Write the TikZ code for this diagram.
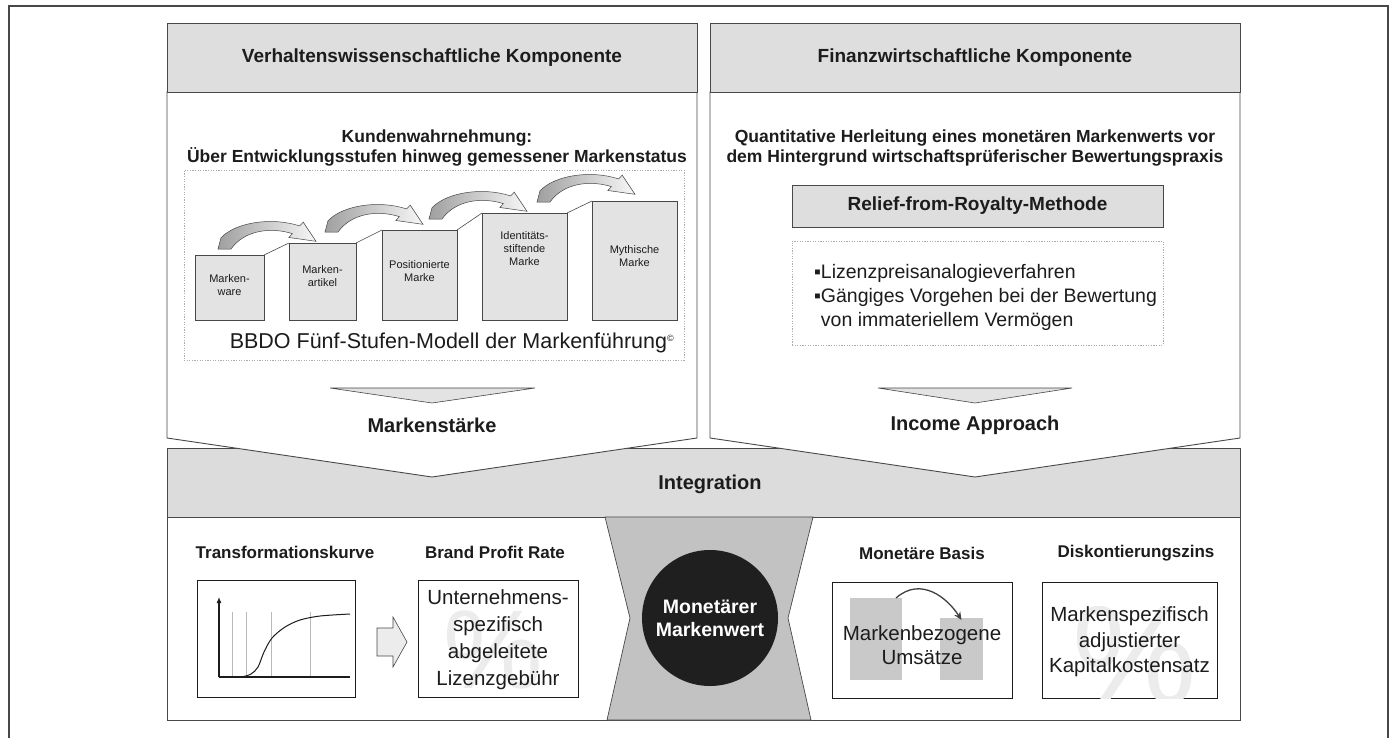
\documentclass[tikz,border=0pt]{standalone}
\usepackage{fontspec}
\setmainfont{Liberation Sans}
\usetikzlibrary{arrows.meta}
\newcommand{\fsz}[2]{\fontsize{#1}{#2}\selectfont}
\definecolor{ink}{HTML}{1C1C1C}
\definecolor{frame}{HTML}{484848}
\definecolor{headfill}{HTML}{DEDEDE}
\definecolor{bandfill}{HTML}{DCDCDC}
\definecolor{glassfill}{HTML}{C2C2C2}
\definecolor{stepfill}{HTML}{E3E3E3}
\definecolor{waterfill}{HTML}{ECECEC}
% curved step arrow, tail bottom at (#1,#2)
\newcommand{\bowarrow}[2]{%
  \begin{scope}[shift={(#1,#2)}, yscale=0.8]
    \path[bow] (0,0) -- (3,-14)
      .. controls (18,-34) and (55,-40) .. (81.6,-28.8)
      -- (85.2,-33.6) -- (98,-9.6) -- (70.8,-14.4) -- (74.4,-19.2)
      .. controls (52,-28) and (26,-23) .. (13,0) -- cycle;
  \end{scope}}
\begin{document}
\begin{tikzpicture}[x=1pt,y=-1pt,
  every node/.style={inner sep=0pt, outer sep=0pt, text=ink},
  edge/.style={draw=frame, line width=0.9pt},
  headbox/.style={draw=frame, line width=0.9pt, fill=headfill, font=\bfseries\fsz{19}{22}},
  subtxt/.style={font=\bfseries\fsz{17.5}{20.5}, align=center},
  biglbl/.style={font=\bfseries\fsz{20}{24}},
  caption/.style={font=\bfseries\fsz{17}{20}},
  valbox/.style={draw=ink, line width=1pt, fill=white},
  valtxt/.style={font=\fsz{20.5}{27}, align=center},
  stepbox/.style={draw=frame, line width=0.6pt, fill=stepfill},
  stepline/.style={draw=frame, line width=0.6pt},
  steptxt/.style={font=\fsz{11}{13}, align=center},
  dotbox/.style={draw=gray!65, line width=0.8pt, dash pattern=on 1.2pt off 1.4pt},
  bow/.style={left color=gray!75, right color=gray!6, draw=gray!55!black, line width=0.5pt},
  chev/.style={fill=gray!22, draw=gray!55!black, line width=0.6pt},
  pct/.style={text=waterfill},
]
\useasboundingbox (0,0) rectangle (1396,738);
\fill[white] (0,0) rectangle (1396,738);

% outer frame
\draw[frame, line width=1.3pt] (9,738) -- (9,6) -- (1388,6) -- (1388,738);

% integration band
\node[draw=frame, line width=0.9pt, fill=bandfill, minimum width=1073pt, minimum height=69pt] (band) at (703.5,482.5) {};
\node[biglbl] (integ) at (710,484) {Integration};

% two upper components with chevron bottoms
\draw[edge, fill=white] (167,92) -- (167,438) -- (432,477) -- (697,438) -- (697,92) -- cycle;
\draw[edge, fill=white] (710,92) -- (710,438) -- (975,477) -- (1240,438) -- (1240,92) -- cycle;
\node[headbox, minimum width=530pt, minimum height=69pt] (lhead) at (432,57.5) {Verhaltenswissenschaftliche Komponente};
\node[headbox, minimum width=530pt, minimum height=69pt] (rhead) at (975,57.5) {Finanzwirtschaftliche Komponente};

% left component
\node[subtxt] (lsub) at (437,148) {Kundenwahrnehmung:\\Über Entwicklungsstufen hinweg gemessener Markenstatus};
\node[dotbox, minimum width=500pt, minimum height=190pt] (bbdobox) at (434,265) {};

\node[stepbox, minimum width=69pt, minimum height=65pt] (s1) at (229.5,287.5) {};
\node[stepbox, minimum width=67pt, minimum height=77pt] (s2) at (322.5,281.5) {};
\node[stepbox, minimum width=75pt, minimum height=90pt] (s3) at (419.5,275) {};
\node[stepbox, minimum width=85pt, minimum height=107pt] (s4) at (524.5,266.5) {};
\node[stepbox, minimum width=85pt, minimum height=119pt] (s5) at (634.5,260.5) {};
\draw[stepline] (s1.north east) -- (s2.north west);
\draw[stepline] (s2.north east) -- (s3.north west);
\draw[stepline] (s3.north east) -- (s4.north west);
\draw[stepline] (s4.north east) -- (s5.north west);
\node[steptxt] (t1) at (229.5,285) {Marken-\\ware};
\node[steptxt] (t2) at (322.5,276.5) {Marken-\\artikel};
\node[steptxt] (t3) at (419.5,271) {Positionierte\\Marke};
\node[steptxt] (t4) at (524.5,248.5) {Identitäts-\\stiftende\\Marke};
\node[steptxt] (t5) at (634.5,256) {Mythische\\Marke};

\bowarrow{218}{249}
\bowarrow{325}{232}
\bowarrow{429}{219}
\bowarrow{537}{202}

\node[font=\fsz{21.5}{24}] (bbdo) at (452,343) {BBDO Fünf-Stufen-Modell der Markenführung\textsuperscript{\fsz{9}{9}©}};

\path[chev] (330,388) -- (535,388) -- (432,403) -- cycle;
\node[biglbl] (lres) at (432,425) {Markenstärke};

% right component
\node[subtxt] (rsub) at (975,148) {Quantitative Herleitung eines monetären Markenwerts vor\\dem Hintergrund wirtschaftsprüferischer Bewertungspraxis};
\node[headbox, minimum width=371pt, minimum height=42pt] (rfr) at (977.5,206) {Relief-from-Royalty-Methode};
\node[dotbox, minimum width=371pt, minimum height=104pt] (lic) at (977.5,293) {};
\node[font=\fsz{19.5}{24}, align=left, anchor=west] (bul) at (814,297)
  {▪Lizenzpreisanalogieverfahren\\▪Gängiges Vorgehen bei der Bewertung\\\phantom{▪}von immateriellem Vermögen};

\path[chev] (878,388) -- (1072,388) -- (975,403) -- cycle;
\node[biglbl] (rres) at (975,425) {Income Approach};

% lower integration panel
\draw[edge, fill=white] (167,517) rectangle (1240,720);
\draw[draw=frame, line width=0.7pt, fill=glassfill]
  (605,517) -- (630,618) -- (607,720) -- (811,720) -- (788,618) -- (813,517) -- cycle;
\node[circle, fill=black!88, minimum size=136pt, text=white, font=\bfseries\fsz{19.5}{23}, align=center] (core) at (710,618) {Monetärer\\Markenwert};

% transformation curve
\node[caption] (cTK) at (285,552) {Transformationskurve};
\node[valbox, minimum width=158pt, minimum height=117pt] (curve) at (276,638.5) {};
\foreach \xv in {232,246,271,310}
  \draw[gray!55, line width=0.5pt] (\xv,612) -- (\xv,677);
\draw[ink, line width=1.1pt] (219,677) -- (350,677);
\draw[ink, line width=1.1pt, -{Latex[length=6pt,width=5pt]}] (219,677) -- (219,597);
\draw[ink, line width=1pt] plot[smooth] coordinates
  {(219,677) (240,677) (251,674) (258,667) (264,652) (272,638) (285,627) (300,620) (320,616) (350,614)};

\draw[draw=frame, line width=0.6pt, fill=gray!15]
  (377,628) -- (393,628) -- (393,617) -- (407,642) -- (393,667) -- (393,656) -- (377,656) -- cycle;

% brand profit rate
\node[caption] (cBPR) at (495,552) {Brand Profit Rate};
\node[valbox, minimum width=160pt, minimum height=117pt] (rate) at (498,638.5) {};
\begin{scope}
  \clip (rate.south west) rectangle (rate.north east);
  \node[pct, font=\fsz{112}{112}] (pctA) at (493,650) {\%};
\end{scope}
\node[valtxt] (rateT) at (498,640) {Unternehmens-\\spezifisch\\abgeleitete\\Lizenzgebühr};

% monetary basis
\node[caption] (cMB) at (922,553) {Monetäre Basis};
\node[valbox, minimum width=180pt, minimum height=116pt] (base) at (922,640) {};
\node[fill=gray!42, minimum width=52pt, minimum height=82pt] (rA) at (876,639) {};
\node[fill=gray!42, minimum width=43pt, minimum height=62pt] (rB) at (961.5,649) {};
\draw[gray!50!black, line width=1.3pt, -{Stealth[length=8pt,width=7pt]}]
  ([xshift=-6pt]rA.north east) .. controls +(25,-22) and +(-14,-22) .. ([yshift=-2pt]rB.north);
\node[font=\fsz{20.5}{24}, align=center] (baseT) at (922,645) {Markenbezogene\\Umsätze};

% discount rate
\node[caption] (cDZ) at (1136,553) {Diskontierungszins};
\node[valbox, minimum width=175pt, minimum height=116pt] (disc) at (1129.5,640) {};
\begin{scope}
  \clip (disc.south west) rectangle (disc.north east);
  \node[pct, font=\fsz{140}{140}] (pctB) at (1135,655) {\%};
\end{scope}
\node[font=\fsz{20.5}{25.5}, align=center] (discT) at (1129.5,642) {Markenspezifisch\\adjustierter\\Kapitalkostensatz};
\end{tikzpicture}
\end{document}
